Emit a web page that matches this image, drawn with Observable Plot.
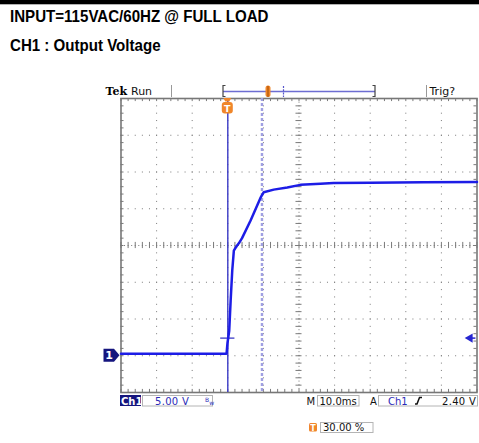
<!DOCTYPE html>
<html><head><meta charset="utf-8">
<script src="https://cdn.jsdelivr.net/npm/d3@7"></script>
<script src="https://cdn.jsdelivr.net/npm/@observablehq/plot@0.6"></script>
<style>
html,body{margin:0;padding:0;background:#fff;}
#chart{position:relative;width:479px;height:443px;overflow:hidden;}
</style></head><body><div id="chart"></div>
<script>
// ---- data ----
const titleLines = ["INPUT=115VAC/60HZ @ FULL LOAD", "CH1 : Output Voltage"];
const timeMs = [-30, -0.35, -0.1, 0.4, 0.8, 1.25, 1.7, 2.2, 2.6, 3.1, 4.0, 6.4, 9.2, 10.1, 12.9, 16.7, 20.4, 26, 29.7, 40, 55, 70];
const volts  = [0.27, 0.27, 1.7, 3.4, 7.5, 11.6, 14.3, 14.7, 15.0, 15.3, 16.0, 18.4, 21.5, 22.25, 22.6, 22.9, 23.25, 23.4, 23.5, 23.55, 23.6, 23.65];
const xDomainMs = [-30, 70];
const yDomainV = [-5, 35];
const triggerTimeMs = [0];
const triggerLevelV = [2.4];
const cursorTimeMs = [9.6];
const groundV = [0];
const headerLabels = ["Tek", "Run", "Trig?"];
const footerLabels = ["Ch1", "5.00 V", "M", "10.0ms", "A", "Ch1", "2.40 V", "30.00 %"];

// ---- layout ----
const W = 479, H = 443, mL = 120.5, mR = 2.5, mT = 98, mB = 51;
const data = timeMs.map((t, i) => ({t, v: volts[i]}));
const centerT = 20, centerV = 15;
const majorT = d3.range(-20, 61, 10).filter(t => t !== centerT);
const majorV = d3.range(0, 31, 5).filter(v => v !== centerV);
const minorT = d3.range(-30, 70.001, 2);
const minorV = d3.range(-5, 35.001, 1);
const gridC = "#7a7a7a";
const tkV = 0.42, tkT = 0.85;

const plot = Plot.plot({
  width: W, height: H,
  marginLeft: mL, marginRight: mR, marginTop: mT, marginBottom: mB,
  x: {domain: xDomainMs, axis: null},
  y: {domain: yDomainV, axis: null},
  style: {background: "white", fontFamily: "'DejaVu Sans', sans-serif", overflow: "visible"},
  marks: [
    Plot.ruleX(majorT, {stroke: gridC, strokeWidth: 1, strokeDasharray: "1 6.35"}),
    Plot.ruleY(majorV, {stroke: gridC, strokeWidth: 1, strokeDasharray: "1 6.12"}),
    Plot.ruleX([centerT], {stroke: gridC, strokeWidth: 1, strokeDasharray: "1 2.67"}),
    Plot.ruleY([centerV], {stroke: gridC, strokeWidth: 1, strokeDasharray: "1 2.56"}),
    Plot.ruleX(minorT, {x: d => d, y1: centerV - tkV, y2: centerV + tkV, stroke: gridC}),
    Plot.ruleY(minorV, {y: d => d, x1: centerT - tkT, x2: centerT + tkT, stroke: gridC}),
    Plot.ruleX(minorT, {x: d => d, y1: yDomainV[1], y2: yDomainV[1] - tkV, stroke: gridC}),
    Plot.ruleX(minorT, {x: d => d, y1: yDomainV[0], y2: yDomainV[0] + tkV, stroke: gridC}),
    Plot.ruleY(minorV, {y: d => d, x1: xDomainMs[0], x2: xDomainMs[0] + tkT, stroke: gridC}),
    Plot.ruleY(minorV, {y: d => d, x1: xDomainMs[1], x2: xDomainMs[1] - tkT, stroke: gridC}),
    Plot.frame({stroke: "#777", strokeWidth: 1.6}),
    Plot.ruleX(cursorTimeMs, {stroke: "#a0a0e2", strokeWidth: 2.4, strokeDasharray: "3 2"}),
    Plot.ruleX(triggerTimeMs, {stroke: "#3a3ac6", strokeWidth: 1.4}),
    Plot.ruleY(triggerLevelV, {x1: -2, x2: 2, stroke: "#3a3ac6", strokeWidth: 1.3}),
    Plot.line(data, {x: "t", y: "v", stroke: "#1d1de6", strokeWidth: 2.5, strokeLinejoin: "round"}),
    Plot.ruleY(triggerLevelV, {x1: xDomainMs[1] - 2, x2: xDomainMs[1] - 0.3, stroke: "#2626d0", strokeWidth: 1.5}),
    Plot.dot(triggerLevelV, {x: () => xDomainMs[1], y: d => d, symbol: "triangle", rotate: -90, r: 3.4, fill: "#2626d0", stroke: null, dx: -7})
  ]
});
document.getElementById("chart").appendChild(plot);

// ---- decorations (pixel positions derived from the plot's scales) ----
const svg = d3.select(plot);
const X = v => plot.scale("x").apply(v), Y = v => plot.scale("y").apply(v);
const g = svg.append("g").attr("text-anchor", "start");
const orange = "#f0862a", navy = "#15157e", blueTxt = "#2b2bb8";
g.append("rect").attr("x", 0).attr("y", 0).attr("width", W).attr("height", 4.3).attr("fill", "#000");
[21.5, 51].forEach((b, i) => g.append("text")
  .attr("transform", `translate(10,${b}) scale(0.915,1)`)
  .attr("text-anchor", "start")
  .attr("font-family", "'Liberation Sans', Arial, sans-serif").attr("font-weight", "bold")
  .attr("font-size", 16.5).attr("fill", "#000").text(titleLines[i]));

// header
const txt = (s, x, y, o = {}) => g.append("text").attr("x", x).attr("y", y)
  .attr("font-family", o.family || "'DejaVu Sans', sans-serif").attr("font-size", o.size || 10)
  .attr("font-weight", o.weight || "normal").attr("fill", o.fill || "#111")
  .attr("letter-spacing", o.ls || 0).attr("text-anchor", o.anchor || "start").text(s);
txt(headerLabels[0], 105.5, 94.5, {family: "'DejaVu Serif', serif", weight: "bold", size: 11, fill: "#000"});
txt(headerLabels[1], 131, 94.5, {size: 11});
txt(headerLabels[2], 429.5, 94.5, {size: 11});
g.append("line").attr("x1", 171.5).attr("x2", 171.5).attr("y1", 85).attr("y2", 97).attr("stroke", "#999");
g.append("line").attr("x1", 426.5).attr("x2", 426.5).attr("y1", 85).attr("y2", 97).attr("stroke", "#999");
g.append("line").attr("x1", 223).attr("x2", 375).attr("y1", 91.5).attr("y2", 91.5).attr("stroke", "#6d6dd2").attr("stroke-width", 1.5);
g.append("path").attr("d", "M225.5,85.5 H223 V96.5 H225.5").attr("fill", "none").attr("stroke", "#444").attr("stroke-width", 1.2);
g.append("path").attr("d", "M372.5,85.5 H375 V96.5 H372.5").attr("fill", "none").attr("stroke", "#444").attr("stroke-width", 1.2);
g.append("rect").attr("x", 265.5).attr("y", 85.5).attr("width", 5).attr("height", 11.5).attr("rx", 2.5).attr("fill", orange);
g.append("line").attr("x1", 268).attr("x2", 268).attr("y1", 86).attr("y2", 97).attr("stroke", "#a04a00").attr("stroke-width", 1);
g.append("line").attr("x1", 283.5).attr("x2", 283.5).attr("y1", 86).attr("y2", 97).attr("stroke", "#5555cc").attr("stroke-dasharray", "2 1.2").attr("stroke-width", 1.2);

// trigger position marker at top of screen
const xt = X(triggerTimeMs[0]);
g.append("path").attr("d", `M${xt - 4},98 H${xt + 4} L${xt + 2},101.5 H${xt - 2} Z`).attr("fill", orange);
g.append("rect").attr("x", xt - 5.5).attr("y", 102).attr("width", 11).attr("height", 11.5).attr("rx", 3).attr("fill", orange);
txt("T", xt, 111.5, {anchor: "middle", weight: "bold", size: 9.5, fill: "#fff"});

// ground marker
const yg = Y(groundV[0]);
g.append("path").attr("d", `M103.5,${yg - 6.5} H114 L119.5,${yg} L114,${yg + 6.5} H103.5 Z`).attr("fill", navy);
txt("1", 109, yg + 4, {anchor: "middle", weight: "bold", size: 11, fill: "#fff"});

// footer
const box = (x, y, w, h) => g.append("rect").attr("x", x).attr("y", y).attr("width", w).attr("height", h)
  .attr("fill", "none").attr("stroke", "#b4b4b4").attr("stroke-width", 1);
g.append("rect").attr("x", 120).attr("y", 395).attr("width", 21).attr("height", 11).attr("fill", navy);
txt(footerLabels[0], 121, 404.5, {weight: "bold", fill: "#fff"});
box(142.5, 395.5, 70, 10.5);
txt(footerLabels[1], 155, 404.5, {fill: blueTxt, ls: 0.3});
const bw = txt("B", 205, 401.5, {size: 6, fill: blueTxt});
bw.append("tspan").attr("dx", 0).attr("dy", 3.5).text("w");
txt(footerLabels[2], 306.5, 404.5);
box(317.5, 395.5, 41.5, 10.5);
txt(footerLabels[3], 319.5, 404.5);
txt(footerLabels[4], 370, 404.5);
box(378.5, 395.5, 99, 10.5);
txt(footerLabels[5], 388, 404.5, {fill: blueTxt});
g.append("path").attr("d", "M415,404 H417 L419.5,397.5 H422").attr("fill", "none").attr("stroke", "#111").attr("stroke-width", 1.5);
txt(footerLabels[6], 442, 404.5, {ls: 0.3});
g.append("rect").attr("x", 309).attr("y", 423).attr("width", 8).attr("height", 8.5).attr("rx", 1.5).attr("fill", orange);
txt("T", 313, 430.5, {anchor: "middle", weight: "bold", size: 8, fill: "#fff"});
box(320.5, 422.5, 52.5, 10);
txt(footerLabels[7], 323, 431, {});
</script></body></html>
